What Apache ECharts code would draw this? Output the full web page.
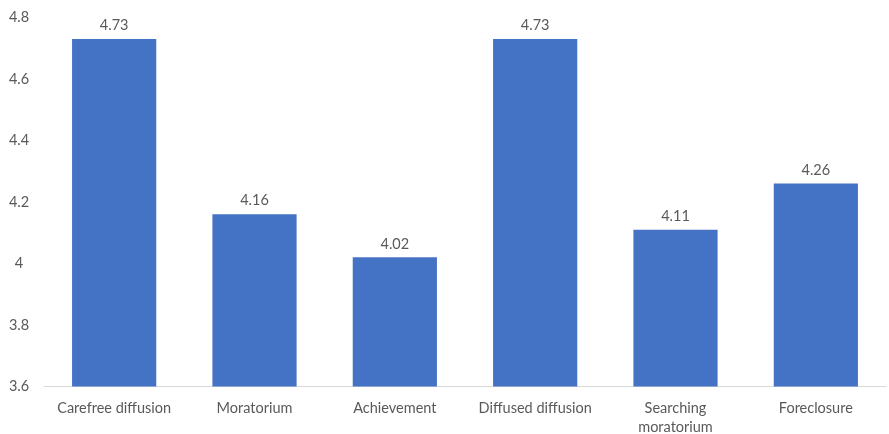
<!DOCTYPE html>
<html>
<head>
<meta charset="utf-8">
<script src="https://cdn.jsdelivr.net/npm/echarts@6/dist/echarts.min.js"></script>
<style>
  html, body { margin: 0; padding: 0; background: #ffffff; }
  #chart { width: 889px; height: 434px; }
</style>
</head>
<body>
<div id="chart"></div>
<script>
// Mean scores by identity status
const categories = ['Carefree diffusion', 'Moratorium', 'Achievement', 'Diffused diffusion', 'Searching\nmoratorium', 'Foreclosure'];
const scores = [4.73, 4.16, 4.02, 4.73, 4.11, 4.26];
const yTicks = { min: 3.6, max: 4.8, step: 0.2 };

const textColor = '#595959';
const fontFamily = 'Lato, "Open Sans", sans-serif';
const fontSize = 14.5;

const chart = echarts.init(document.getElementById('chart'), null, { renderer: 'canvas' });
chart.setOption({
  animation: false,
  grid: {
    left: 44, right: 3, top: 17.5, bottom: 47.5,
    containLabel: false, outerBoundsMode: 'none'
  },
  xAxis: {
    type: 'category',
    data: categories,
    axisLine: { show: true, lineStyle: { color: '#d9d9d9', width: 1 } },
    axisTick: { show: false },
    axisLabel: {
      color: textColor, fontFamily: fontFamily, fontSize: fontSize,
      margin: 12, lineHeight: 19, interval: 0
    }
  },
  yAxis: {
    type: 'value',
    min: yTicks.min, max: yTicks.max, interval: yTicks.step,
    axisLine: { show: false },
    axisTick: { show: false },
    splitLine: { show: false },
    axisLabel: {
      color: textColor, fontFamily: fontFamily, fontSize: fontSize,
      align: 'center', margin: 25,
      formatter: v => String(Math.round(v * 10) / 10)
    }
  },
  series: [{
    type: 'bar',
    data: scores,
    barCategoryGap: '40%',
    itemStyle: { color: '#4472c4' },
    label: {
      show: true, position: 'top', distance: 6,
      color: textColor, fontFamily: fontFamily, fontSize: fontSize,
      formatter: p => p.value.toFixed(2)
    }
  }]
});
</script>
</body>
</html>
